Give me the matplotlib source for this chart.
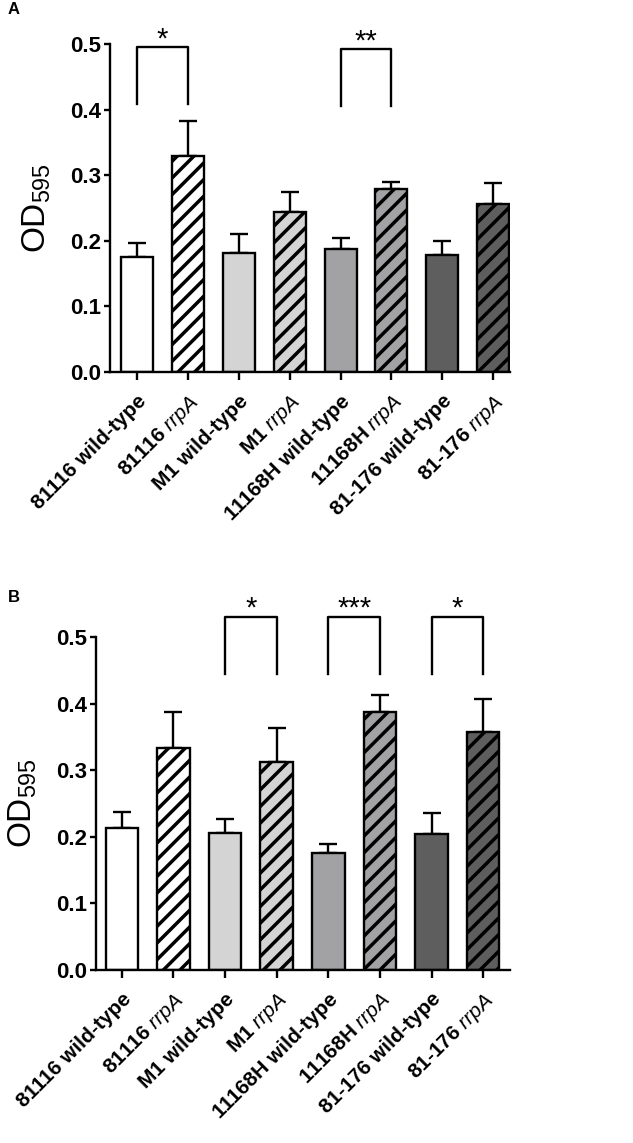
import matplotlib
matplotlib.use("Agg")
import matplotlib.pyplot as plt

plt.rcParams['font.family'] = 'Liberation Sans'
plt.rcParams['mathtext.fontset'] = 'custom'
plt.rcParams['mathtext.rm'] = 'Liberation Sans'
plt.rcParams['mathtext.it'] = 'Liberation Sans:italic'
plt.rcParams['mathtext.bf'] = 'Liberation Sans:bold'
plt.rcParams['hatch.linewidth'] = 2.5

# data
strains = ['81116', 'M1', '11168H', '81-176']
labels = []
for s in strains:
    labels.append(s + ' wild-type')
    labels.append(s + r' $\mathit{rrpA}$')

colors = ['white', '#d4d4d4', '#a2a2a5', '#5e5e5e']

a_means = [0.176, 0.329, 0.182, 0.244, 0.187, 0.279, 0.178, 0.256]
a_err = [0.021, 0.053, 0.029, 0.031, 0.018, 0.011, 0.022, 0.032]
b_means = [0.213, 0.333, 0.205, 0.313, 0.176, 0.388, 0.204, 0.358]
b_err = [0.024, 0.055, 0.022, 0.050, 0.013, 0.025, 0.031, 0.049]

# significance brackets: (left bar, right bar, stars, top, bottom)
a_sig = [(0, 1, '*', 0.495, 0.408), (4, 5, '**', 0.492, 0.406)]
b_sig = [(2, 3, '*', 0.530, 0.444), (4, 5, '***', 0.530, 0.444), (6, 7, '*', 0.530, 0.444)]

fig = plt.figure(figsize=(6.33, 11.43), dpi=100)
axA = fig.add_axes([110/633, 1-372/1143, 400/633, 328/1143])
axB = fig.add_axes([96/633, 1-970/1143, 414/633, 333/1143])


def draw(ax, means, err, sig, xlim, star_off):
    x = list(range(len(means)))
    fc = [colors[i // 2] for i in x]
    hatches = ['' if i % 2 == 0 else '//' for i in x]
    bars = ax.bar(x, means, width=0.63, color=fc, edgecolor='black', linewidth=1.7, zorder=2)
    for b, h in zip(bars, hatches):
        b.set_hatch(h)
    ax.errorbar(x, means, yerr=[[0]*len(err), err], fmt='none', ecolor='black',
                elinewidth=1.7, capsize=6.5, capthick=1.7, zorder=1)
    for l, r, st, top, bot in sig:
        ax.plot([l, l, r, r], [bot, top, top, bot], color='black', lw=1.7, clip_on=False)
        ax.text((l + r) / 2, top + star_off, st, ha='center', va='center', fontsize=21, clip_on=False)
    ax.set_xlim(*xlim)
    ax.set_ylim(0, 0.5)
    ax.set_yticks([0, 0.1, 0.2, 0.3, 0.4, 0.5])
    ax.set_yticklabels(['0.0', '0.1', '0.2', '0.3', '0.4', '0.5'], fontsize=16, fontweight='bold')
    ax.set_xticks(x)
    ax.set_xticklabels(labels, rotation=45, ha='right', rotation_mode='anchor',
                       fontsize=15, fontweight='bold')
    ax.spines['top'].set_visible(False)
    ax.spines['right'].set_visible(False)
    ax.spines['left'].set_linewidth(1.7)
    ax.spines['bottom'].set_linewidth(1.7)
    ax.tick_params(axis='y', width=1.7, length=4.5, pad=2)
    ax.tick_params(axis='x', width=1.7, length=6, pad=8)
    ax.set_ylabel('OD$_{595}$', fontsize=24, labelpad=12)


draw(axA, a_means, a_err, a_sig, (-0.53, 7.33), 0.012)
draw(axB, b_means, b_err, b_sig, (-0.50, 7.52), 0.012)

fig.text(8/633, 1-10/1143, 'A', fontsize=12, fontweight='bold', va='center')
fig.text(8/633, 1-598/1143, 'B', fontsize=12, fontweight='bold', va='center')

fig.savefig('out.png', dpi=100)
